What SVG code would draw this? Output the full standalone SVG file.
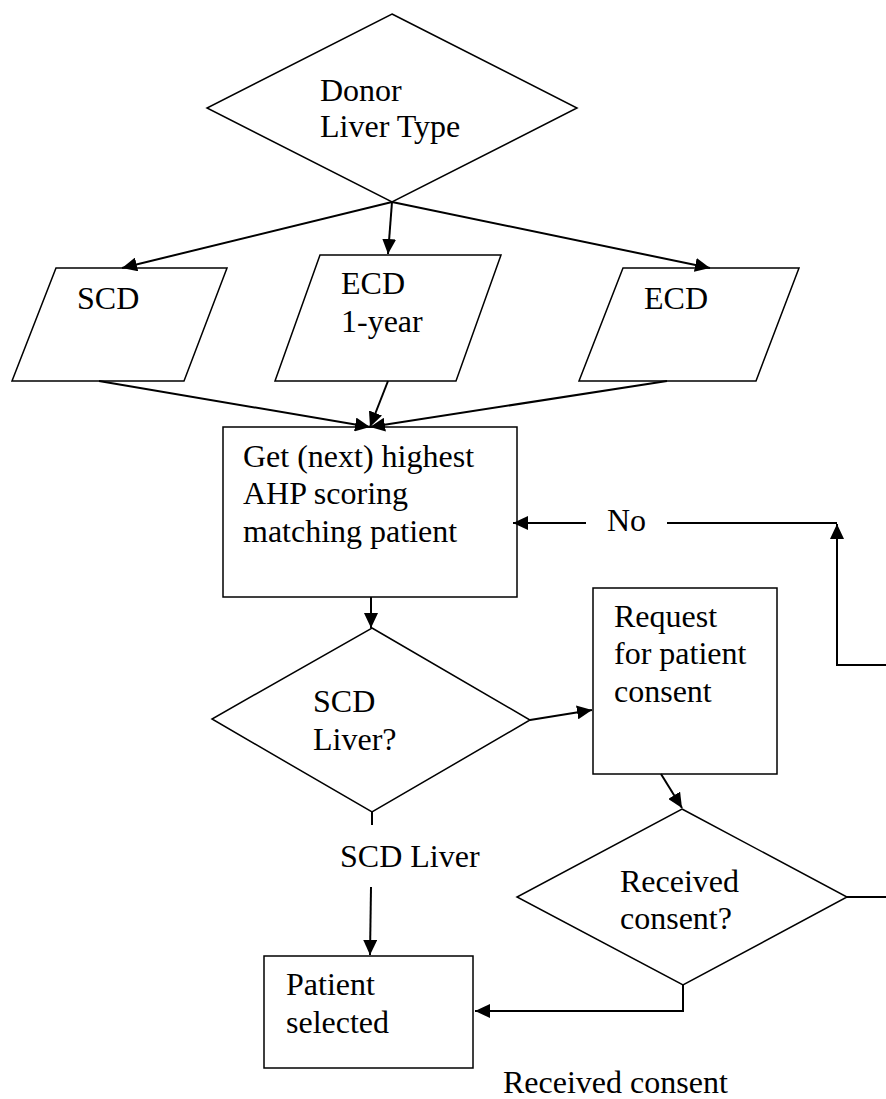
<svg xmlns="http://www.w3.org/2000/svg" width="886" height="1099" viewBox="0 0 886 1099">
<style>
.shape{fill:#fff;stroke:#000;stroke-width:1.5}
.conn{fill:none;stroke:#000;stroke-width:2}
.arr{marker-end:url(#ah)}
text{font-family:"Liberation Serif","Times New Roman",serif;font-size:32px;fill:#000}
</style>
<defs>
<marker id="ah" markerUnits="userSpaceOnUse" markerWidth="15" markerHeight="14" refX="15" refY="7" orient="auto">
<path d="M0,0 L15,7 L0,14 z" fill="#000"/>
</marker>
</defs>
<rect width="886" height="1099" fill="#fff"/>
<g id="n-donor">
<polygon class="shape" points="392,14 577,108 392,202 207,108"/>
<text x="320" y="101">Donor</text>
<text x="320" y="137">Liver Type</text>
</g>
<g id="n-scd">
<polygon class="shape" points="56,268 227,268 184,381 12,381"/>
<text x="77" y="309">SCD</text>
</g>
<g id="n-ecd1">
<polygon class="shape" points="320,255 501,255 456,381 275,381"/>
<text x="341" y="294">ECD</text>
<text x="341" y="332">1-year</text>
</g>
<g id="n-ecd">
<polygon class="shape" points="623,268 799,268 756,381 579,381"/>
<text x="644" y="309">ECD</text>
</g>
<g id="n-get">
<rect class="shape" x="223" y="427" width="294" height="170"/>
<text x="243" y="467">Get (next) highest</text>
<text x="243" y="504">AHP scoring</text>
<text x="243" y="542">matching patient</text>
</g>
<g id="n-scdq">
<polygon class="shape" points="372,628 530,720 372,812 212,719"/>
<text x="313" y="712">SCD</text>
<text x="313" y="750">Liver?</text>
</g>
<g id="n-request">
<rect class="shape" x="593" y="588" width="184" height="186"/>
<text x="614" y="627">Request</text>
<text x="614" y="664">for patient</text>
<text x="614" y="702">consent</text>
</g>
<g id="n-received">
<polygon class="shape" points="682,809 847,897 683,985 517,897"/>
<text x="620" y="892">Received</text>
<text x="620" y="929">consent?</text>
</g>
<g id="n-selected">
<rect class="shape" x="264" y="956" width="209" height="112"/>
<text x="286" y="995">Patient</text>
<text x="286" y="1033">selected</text>
</g>
<g id="connectors">
<line class="conn arr" x1="392" y1="202" x2="122" y2="268"/>
<line class="conn arr" x1="392" y1="202" x2="388" y2="254"/>
<line class="conn arr" x1="392" y1="202" x2="710" y2="268"/>
<line class="conn arr" x1="99" y1="381" x2="370" y2="427"/>
<line class="conn arr" x1="388" y1="381" x2="370" y2="427"/>
<line class="conn arr" x1="667" y1="381" x2="370" y2="427"/>
<line class="conn arr" x1="371" y1="597" x2="371" y2="628"/>
<line class="conn" x1="372" y1="812" x2="372" y2="825"/>
<text x="340" y="867">SCD Liver</text>
<line class="conn arr" x1="371" y1="887" x2="370" y2="955"/>
<line class="conn arr" x1="530" y1="720" x2="592" y2="710"/>
<line class="conn arr" x1="661" y1="774" x2="682" y2="808"/>
<polyline class="conn arr" points="683,985 683,1011 475,1011"/>
<text x="503" y="1093">Received consent</text>
<line class="conn" x1="847" y1="897" x2="886" y2="897"/>
<polyline class="conn arr" points="886,665 837,665 837,524"/>
<line class="conn" x1="837" y1="523" x2="667" y2="523"/>
<text x="607" y="531">No</text>
<line class="conn arr" x1="586" y1="523" x2="513" y2="523"/>
</g>
</svg>
